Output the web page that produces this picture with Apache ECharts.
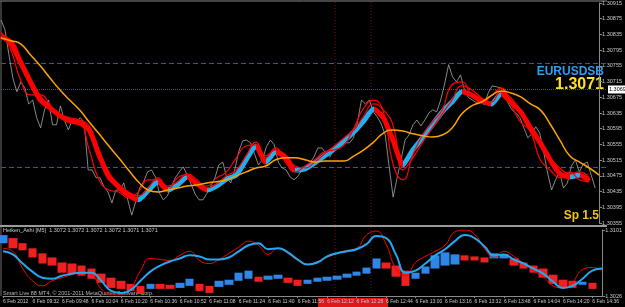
<!DOCTYPE html>
<html>
<head>
<meta charset="utf-8">
<script src="https://cdn.jsdelivr.net/npm/echarts@6/dist/echarts.min.js"></script>
<style>
html, body { margin: 0; padding: 0; background: #000; }
#chart { width: 625px; height: 307px; }
</style>
</head>
<body>
<div id="chart"></div>
<script>
// 时间轴标签 (每 16 分钟一个)
const timeLabels = ['6 Feb 2012', '6 Feb 09:32', '6 Feb 09:48', '6 Feb 10:04', '6 Feb 10:20', '6 Feb 10:36',
    '6 Feb 10:52', '6 Feb 11:08', '6 Feb 11:24', '6 Feb 11:40', '6 Feb 11:56', '6 Feb 12:12', '6 Feb 12:28',
    '6 Feb 12:44', '6 Feb 13:00', '6 Feb 13:16', '6 Feb 13:32', '6 Feb 13:48', '6 Feb 14:04', '6 Feb 14:20',
    '6 Feb 14:36'];

// 价格轴
const priceMin = 1.30355;
const priceMax = 1.30915;
const priceStep = 0.0004;
const oscMin = 1.3026;
const oscMax = 1.3101;

// 水平参考线
const levelLines = [1.30763, 1.30498];
const bidLevel = 1.30696;

// 收盘价 (细灰线)
const closeLine = [1.30872, 1.30847, 1.30783, 1.30724, 1.30689, 1.30714, 1.30699, 1.30658, 1.30668, 1.30623,
    1.30597, 1.30643, 1.30668, 1.30605, 1.30605, 1.30653, 1.30617, 1.30592, 1.30617, 1.30612,
    1.30623, 1.30612, 1.30490, 1.30490, 1.30470, 1.30470, 1.30447, 1.30434, 1.30406, 1.30439,
    1.30439, 1.30457, 1.30414, 1.30375, 1.30409, 1.30444, 1.30460, 1.30485, 1.30490, 1.30472,
    1.30431, 1.30414, 1.30424, 1.30447, 1.30470, 1.30485, 1.30498, 1.30477, 1.30454, 1.30429,
    1.30414, 1.30414, 1.30431, 1.30449, 1.30470, 1.30503, 1.30510, 1.30470, 1.30457, 1.30490,
    1.30536, 1.30564, 1.30566, 1.30559, 1.30531, 1.30503, 1.30516, 1.30549, 1.30566, 1.30554,
    1.30510, 1.30495, 1.30490, 1.30472, 1.30465, 1.30475, 1.30490, 1.30500, 1.30508, 1.30523,
    1.30546, 1.30546, 1.30533, 1.30523, 1.30541, 1.30551, 1.30559, 1.30559, 1.30559, 1.30572,
    1.30612, 1.30668, 1.30658, 1.30668, 1.30638, 1.30625, 1.30607, 1.30579, 1.30498, 1.30421,
    1.30470, 1.30516, 1.30566, 1.30579, 1.30605, 1.30617, 1.30602, 1.30617, 1.30635, 1.30643,
    1.30638, 1.30668, 1.30709, 1.30758, 1.30727, 1.30714, 1.30732, 1.30694, 1.30674, 1.30668,
    1.30661, 1.30666, 1.30656, 1.30686, 1.30704, 1.30702, 1.30699, 1.30694, 1.30661, 1.30643,
    1.30635, 1.30623, 1.30597, 1.30572, 1.30582, 1.30600, 1.30584, 1.30536, 1.30482, 1.30439,
    1.30465, 1.30485, 1.30444, 1.30457, 1.30500, 1.30516, 1.30485, 1.30505, 1.30510, 1.30477,
    1.30444, '-'];

// 趋势带 (红/青)
const ribbon = [1.30831, 1.30814, 1.30763, 1.30714, 1.30668, 1.30648, 1.30628, 1.30615, 1.30610, 1.30592,
    1.30528, 1.30472, 1.30447, 1.30426, 1.30414, 1.30437, 1.30460, 1.30439, 1.30452, 1.30472,
    1.30454, 1.30439, 1.30449, 1.30467, 1.30477, 1.30516, 1.30551, 1.30510, 1.30536, 1.30523,
    1.30490, 1.30493, 1.30508, 1.30526, 1.30544, 1.30564, 1.30587, 1.30615, 1.30645, 1.30623,
    1.30564, 1.30503, 1.30541, 1.30572, 1.30605, 1.30638, 1.30663, 1.30689, 1.30681, 1.30666,
    1.30658, 1.30684, 1.30663, 1.30638, 1.30597, 1.30559, 1.30516, 1.30480, 1.30472, 1.30477,
    1.30462, '-'];

// 快线 (细红)
const redFast = [1.30842, 1.30796, 1.30719, 1.30681, 1.30681, 1.30656, 1.30623, 1.30617, 1.30612, 1.30541,
    1.30465, 1.30439, 1.30434, 1.30419, 1.30434, 1.30465, 1.30465, 1.30439, 1.30470, 1.30477,
    1.30457, 1.30449, 1.30470, 1.30485, 1.30521, 1.30551, 1.30554, 1.30521, 1.30546, 1.30510,
    1.30485, 1.30500, 1.30516, 1.30536, 1.30541, 1.30554, 1.30597, 1.30648, 1.30668, 1.30638,
    1.30503, 1.30465, 1.30528, 1.30579, 1.30612, 1.30643, 1.30707, 1.30714, 1.30681, 1.30661,
    1.30679, 1.30699, 1.30656, 1.30612, 1.30587, 1.30516, 1.30490, 1.30470, 1.30485, 1.30465,
    1.30460, '-'];

// 慢线 (细红)
const redSlow = [1.30826, 1.30821, 1.30775, 1.30724, 1.30679, 1.30653, 1.30633, 1.30623, 1.30617, 1.30602,
    1.30541, 1.30485, 1.30454, 1.30434, 1.30424, 1.30444, 1.30470, 1.30449, 1.30460, 1.30480,
    1.30465, 1.30444, 1.30454, 1.30475, 1.30490, 1.30526, 1.30561, 1.30526, 1.30541, 1.30528,
    1.30500, 1.30495, 1.30510, 1.30531, 1.30551, 1.30572, 1.30592, 1.30628, 1.30658, 1.30643,
    1.30602, 1.30490, 1.30521, 1.30561, 1.30597, 1.30633, 1.30668, 1.30704, 1.30694, 1.30674,
    1.30663, 1.30689, 1.30674, 1.30638, 1.30605, 1.30566, 1.30521, 1.30495, 1.30480, 1.30485,
    1.30470, '-'];

// 橙色均线
const slowMa = [1.30826, 1.30819, 1.30811, 1.30783, 1.30755, 1.30724, 1.30694, 1.30668, 1.30643, 1.30612,
    1.30582, 1.30551, 1.30521, 1.30490, 1.30460, 1.30439, 1.30434, 1.30439, 1.30444, 1.30449,
    1.30452, 1.30457, 1.30460, 1.30465, 1.30475, 1.30485, 1.30495, 1.30500, 1.30516, 1.30521,
    1.30521, 1.30516, 1.30510, 1.30513, 1.30513, 1.30513, 1.30526, 1.30541, 1.30561, 1.30584,
    1.30592, 1.30589, 1.30582, 1.30577, 1.30574, 1.30579, 1.30597, 1.30633, 1.30653, 1.30663,
    1.30679, 1.30691, 1.30686, 1.30676, 1.30658, 1.30643, 1.30607, 1.30566, 1.30526, 1.30510,
    1.30495, 1.30477];

// Heiken_Ashi 窗口: 开/收
const haOpen = [1.30860, 1.30918, 1.30860, 1.30802, 1.30745, 1.30698, 1.30641, 1.30629, 1.30606, 1.30572,
    1.30514, 1.30468, 1.30433, 1.30398, 1.30375, 1.30341, 1.30398, 1.30387, 1.30352, 1.30375,
    1.30398, 1.30375, 1.30364, 1.30387, 1.30433, 1.30456, 1.30479, 1.30445, 1.30456, 1.30468,
    1.30445, 1.30398, 1.30422, 1.30433, 1.30445, 1.30468, 1.30491, 1.30514, 1.30572, 1.30641,
    1.30606, 1.30548, 1.30456, 1.30514, 1.30572, 1.30606, 1.30618, 1.30722, 1.30710, 1.30698,
    1.30687, 1.30687, 1.30687, 1.30641, 1.30606, 1.30572, 1.30502, 1.30445, 1.30433, 1.30387,
    1.30410, '-'];
const haClose = [1.30952, 1.30802, 1.30779, 1.30698, 1.30629, 1.30606, 1.30525, 1.30514, 1.30491, 1.30456,
    1.30410, 1.30352, 1.30341, 1.30318, 1.30283, 1.30398, 1.30341, 1.30341, 1.30410, 1.30456,
    1.30318, 1.30295, 1.30433, 1.30445, 1.30525, 1.30548, 1.30422, 1.30491, 1.30502, 1.30410,
    1.30375, 1.30445, 1.30468, 1.30479, 1.30491, 1.30514, 1.30537, 1.30583, 1.30687, 1.30572,
    1.30479, 1.30375, 1.30525, 1.30595, 1.30722, 1.30756, 1.30733, 1.30664, 1.30664, 1.30641,
    1.30745, 1.30733, 1.30606, 1.30572, 1.30525, 1.30468, 1.30398, 1.30352, 1.30352, 1.30422,
    1.30341, '-'];

// Heiken_Ashi 窗口: 蓝/红曲线
const oscBlue = [1.30768, 1.30733, 1.30629, 1.30537, 1.30468, 1.30456, 1.30491, 1.30514, 1.30525, 1.30525,
    1.30433, 1.30318, 1.30295, 1.30329, 1.30433, 1.30537, 1.30606, 1.30652, 1.30687, 1.30722,
    1.30710, 1.30675, 1.30675, 1.30698, 1.30768, 1.30837, 1.30860, 1.30791, 1.30802, 1.30756,
    1.30675, 1.30618, 1.30641, 1.30710, 1.30745, 1.30768, 1.30791, 1.30848, 1.30941, 1.30918,
    1.30733, 1.30525, 1.30548, 1.30629, 1.30722, 1.30791, 1.30883, 1.30952, 1.30918, 1.30825,
    1.30722, 1.30733, 1.30675, 1.30629, 1.30572, 1.30514, 1.30422, 1.30352, 1.30375, 1.30456,
    1.30548, 1.30572];
const oscRed = [1.30802, 1.30768, 1.30572, 1.30433, 1.30375, 1.30433, 1.30468, 1.30502, 1.30525, 1.30502,
    1.30341, 1.30283, 1.30283, 1.30352, 1.30548, 1.30687, 1.30675, 1.30664, 1.30722, 1.30768,
    1.30664, 1.30629, 1.30675, 1.30745, 1.30814, 1.30883, 1.30837, 1.30733, 1.30802, 1.30745,
    1.30664, 1.30618, 1.30652, 1.30698, 1.30745, 1.30779, 1.30802, 1.30952, 1.30998, 1.30848,
    1.30572, 1.30491, 1.30641, 1.30710, 1.30768, 1.30837, 1.30987, 1.31010, 1.30964, 1.30802,
    1.30698, 1.30768, 1.30710, 1.30629, 1.30548, 1.30479, 1.30375, 1.30352, 1.30422, 1.30560,
    1.30583, 1.30548];

const BLUE = '#1fb0f0';
const RED = '#ff0000';

// 固定装饰: 边框, 分隔线, 文字
function staticGraphics() {
    return [
        { type: 'line', shape: { x1: 0, y1: 1, x2: 607, y2: 1 }, style: { stroke: '#8a8a8a', lineWidth: 1 } },
        { type: 'line', shape: { x1: 1, y1: 1, x2: 1, y2: 296 }, style: { stroke: '#6a6a6a', lineWidth: 1 } },
        { type: 'rect', shape: { x: 0, y: 225, width: 607, height: 2 }, style: { fill: '#9a9a9a' } },
        { type: 'line', shape: { x1: 335, y1: 2, x2: 335, y2: 296 }, style: { stroke: '#7a0a0a', lineWidth: 1, lineDash: [1, 2] } },
        { type: 'line', shape: { x1: 371, y1: 2, x2: 371, y2: 296 }, style: { stroke: '#7a0a0a', lineWidth: 1, lineDash: [1, 2] } },
        { type: 'rect', shape: { x: 318, y: 298, width: 70, height: 9 }, style: { fill: '#e01818' } },
        { type: 'text', x: 604, y: 72, style: { text: 'EURUSDSB', fill: '#2a9ff0', font: 'bold 12px "Liberation Sans"', align: 'right', verticalAlign: 'middle' } },
        { type: 'text', x: 604, y: 85, style: { text: '1.3071', fill: '#ffe028', font: 'bold 16px "Liberation Sans"', align: 'right', verticalAlign: 'middle' } },
        { type: 'text', x: 599, y: 216, style: { text: 'Sp 1.5', fill: '#f2c21b', font: 'bold 12px "Liberation Sans"', align: 'right', verticalAlign: 'middle' } },
        { type: 'text', x: 3, y: 230, style: { text: 'Heiken_Ashi [M5]  1.3072 1.3072 1.3072 1.3072 1.3071 1.3071', fill: '#c8c8c8', font: '5.5px "Liberation Sans"', verticalAlign: 'middle' } },
        { type: 'text', x: 3, y: 293, style: { text: 'Smart Live 88 MT4, © 2001-2011 MetaQuotes Software Corp.', fill: '#b8b8b8', font: '5.5px "Liberation Sans"', verticalAlign: 'middle' } }
    ];
}

function initChart() {
    const chart = echarts.init(document.getElementById('chart'));

    const barCats = ribbon.map((_, i) => (i % 3 === 0 ? timeLabels[i / 3] : ''));
    const tickCats = closeLine.map((_, i) => String(i));

    // 上涨段青色, 下跌段红色
    const pieces = [];
    for (let i = 0; i < ribbon.length - 1; i++) {
        if (ribbon[i + 1] === '-') break;
        pieces.push({ gte: i, lt: i + 1, color: ribbon[i + 1] > ribbon[i] ? BLUE : RED });
    }

    const candles = haOpen.map((o, i) => {
        const c = haClose[i];
        if (o === '-') return '-';
        return [o, c, Math.min(o, c), Math.max(o, c)];
    });

    const small = { fontFamily: 'Liberation Sans', color: '#c8c8c8' };

    chart.setOption({
        backgroundColor: '#000',
        animation: false,
        grid: [
            { left: 1, top: 3, width: 606, height: 220 },
            { left: 1, top: 230, width: 606, height: 66 }
        ],
        xAxis: [
            { type: 'category', gridIndex: 0, data: tickCats, boundaryGap: false, show: false },
            { type: 'category', gridIndex: 0, data: barCats, boundaryGap: false, show: false, position: 'top' },
            {
                type: 'category', gridIndex: 1, data: barCats, boundaryGap: false,
                axisLine: { lineStyle: { color: '#8a8a8a' } },
                axisTick: { interval: (i) => i % 3 === 0, length: 2, lineStyle: { color: '#8a8a8a' } },
                axisLabel: Object.assign({ interval: 0, fontSize: 5, align: 'left', margin: 3 }, small),
                splitLine: { show: false }
            }
        ],
        yAxis: [
            {
                type: 'value', gridIndex: 0, position: 'right', min: priceMin, max: priceMax, interval: priceStep,
                axisLine: { show: true, lineStyle: { color: '#8a8a8a' } },
                axisTick: { show: true, length: 3, lineStyle: { color: '#8a8a8a' } },
                axisLabel: Object.assign({ fontSize: 5.5, margin: 3, formatter: (v) => v.toFixed(5) }, small),
                splitLine: { show: false }
            },
            {
                type: 'value', gridIndex: 1, position: 'right', min: oscMin, max: oscMax, interval: oscMax - oscMin,
                axisLine: { show: true, lineStyle: { color: '#8a8a8a' } },
                axisTick: { show: true, length: 3, lineStyle: { color: '#8a8a8a' } },
                axisLabel: Object.assign({ fontSize: 5.5, margin: 3, formatter: (v) => v.toFixed(4) }, small),
                splitLine: { show: false }
            }
        ],
        visualMap: {
            show: false,
            type: 'piecewise',
            seriesIndex: 1,
            dimension: 0,
            pieces: pieces,
            outOfRange: { color: RED }
        },
        series: [
            {
                name: 'close', type: 'line', xAxisIndex: 0, yAxisIndex: 0, data: closeLine,
                showSymbol: false, lineStyle: { color: '#a8a8a8', width: 0.8 }, z: 2
            },
            {
                name: 'ribbon', type: 'line', xAxisIndex: 1, yAxisIndex: 0, data: ribbon,
                showSymbol: false, smooth: 0.2, lineStyle: { width: 5 }, z: 3
            },
            {
                name: 'redSlow', type: 'line', xAxisIndex: 1, yAxisIndex: 0, data: redSlow,
                showSymbol: false, smooth: true, lineStyle: { color: RED, width: 1.2 }, z: 4
            },
            {
                name: 'redFast', type: 'line', xAxisIndex: 1, yAxisIndex: 0, data: redFast,
                showSymbol: false, smooth: true, lineStyle: { color: RED, width: 1.2 }, z: 4
            },
            {
                name: 'ma', type: 'line', xAxisIndex: 1, yAxisIndex: 0, data: slowMa,
                showSymbol: false, smooth: true, lineStyle: { color: '#ffa200', width: 1.5 }, z: 5
            },
            {
                name: 'heikenAshi', type: 'candlestick', xAxisIndex: 2, yAxisIndex: 1, data: candles,
                barWidth: 9,
                itemStyle: { color: '#2f86e6', color0: '#f02020', borderColor: '#2f86e6', borderColor0: '#f02020', borderWidth: 0 }
            },
            {
                name: 'oscRed', type: 'line', xAxisIndex: 2, yAxisIndex: 1, data: oscRed,
                showSymbol: false, smooth: true, lineStyle: { color: RED, width: 1 }
            },
            {
                name: 'oscBlue', type: 'line', xAxisIndex: 2, yAxisIndex: 1, data: oscBlue,
                showSymbol: false, smooth: true, lineStyle: { color: '#22a9f2', width: 2 }
            }
        ],
        graphic: staticGraphics()
    });

    // 水平价位线: 位置由价格轴换算
    const extra = [];
    levelLines.forEach((v) => {
        const y = Math.round(chart.convertToPixel({ yAxisIndex: 0 }, v)) + 0.5;
        extra.push({ type: 'line', z: 1, shape: { x1: 1, y1: y, x2: 607, y2: y }, style: { stroke: '#2c5aa8', lineWidth: 1, lineDash: [5, 3] } });
    });
    const by = Math.round(chart.convertToPixel({ yAxisIndex: 0 }, bidLevel)) + 0.5;
    extra.push({ type: 'line', z: 1, shape: { x1: 1, y1: by, x2: 607, y2: by }, style: { stroke: '#3f5478', lineWidth: 1, lineDash: [1, 1] } });
    extra.push({ type: 'rect', z: 10, shape: { x: 608, y: by - 4, width: 17, height: 8 }, style: { fill: '#fff' } });
    extra.push({ type: 'text', z: 11, x: 609, y: by, style: { text: bidLevel.toFixed(5), fill: '#000', font: '5.5px "Liberation Sans"', verticalAlign: 'middle' } });

    chart.setOption({ graphic: staticGraphics().concat(extra) });
}

document.addEventListener('DOMContentLoaded', () => {
    initChart();
});
</script>
</body>
</html>
